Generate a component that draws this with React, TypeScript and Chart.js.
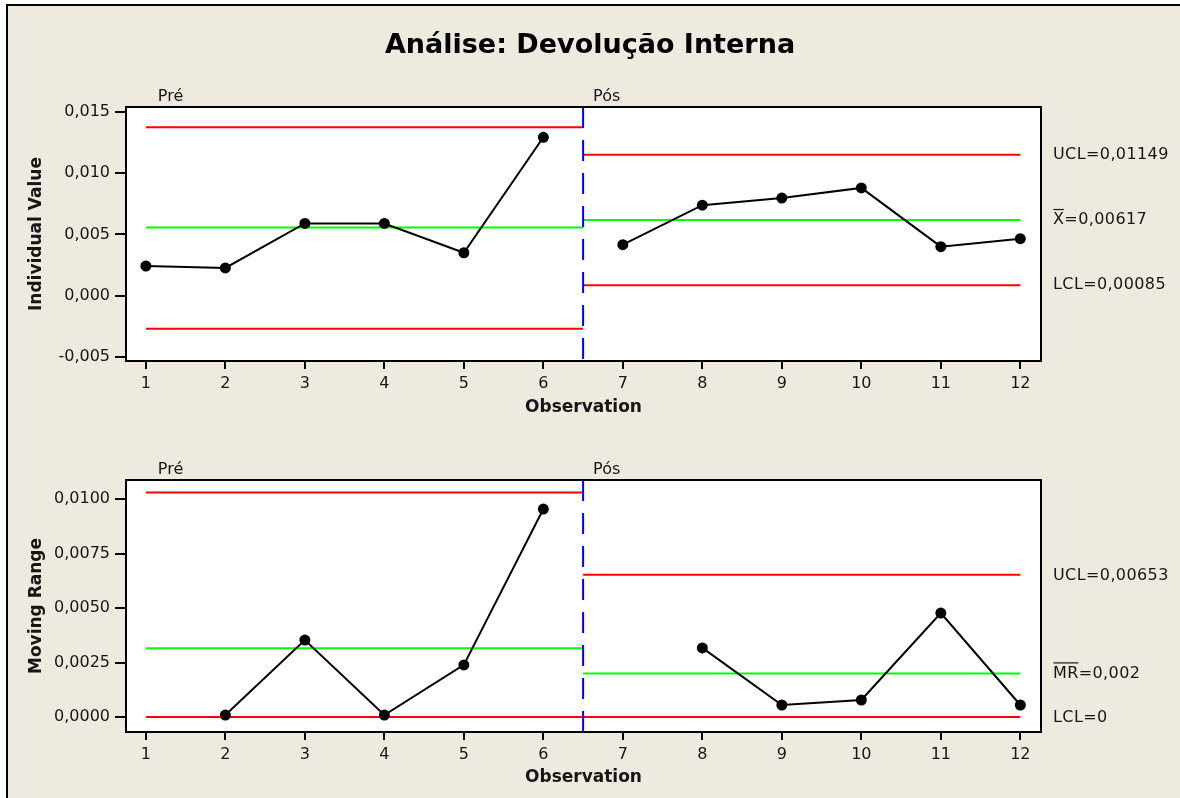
import React, { useEffect, useRef } from "react";
import { Chart, registerables } from "chart.js";

Chart.register(...registerables);

const FONT = "'DejaVu Sans', Verdana, sans-serif";
const TEXT = "#161616";

// ---- data ----
const chartTitle = "Análise: Devolução Interna";
const observations = [1, 2, 3, 4, 5, 6, 7, 8, 9, 10, 11, 12];
const stageNames = ["Pré", "Pós"];
const stageStart = [1, 7];
const stageEnd = [6, 12];
const stageSplit = 6.5;

const individualPre = [0.00242, 0.00226, 0.00589, 0.00589, 0.0035, 0.01292];
const individualPos = [0.00416, 0.00738, 0.00796, 0.00879, 0.004, 0.00465];
const movingRangePre = [null, 0.00009, 0.00353, 0.00009, 0.00239, 0.00954];
const movingRangePos = [null, 0.00317, 0.00055, 0.00078, 0.00477, 0.00055];

const iUCL = [0.01374, 0.01149];
const iCL = [0.00556, 0.00617];
const iLCL = [-0.0027, 0.00085];
const mrUCL = [0.0103, 0.00653];
const mrCL = [0.00315, 0.002];
const mrLCL = [0, 0];

const iTicks = [-0.005, 0, 0.005, 0.01, 0.015];
const mrTicks = [0, 0.0025, 0.005, 0.0075, 0.01];
const iRange = [-0.00533, 0.01539];
const mrRange = [-0.000688, 0.010872];
const xRange = [0.75, 12.26];

const iLimitLabels = ["UCL=0,01149", "X=0,00617", "LCL=0,00085"];
const mrLimitLabels = ["UCL=0,00653", "MR=0,002", "LCL=0"];
const iOverline = [0, 1, 0];
const mrOverline = [0, 2, 0];

// ---- helpers ----
function pts(vals: (number | null)[], start: number) {
  const out: { x: number; y: number }[] = [];
  vals.forEach((v, i) => {
    if (v !== null) out.push({ x: start + i, y: v });
  });
  return out;
}

function buildDatasets(
  pre: (number | null)[],
  pos: (number | null)[],
  ucl: number[],
  cl: number[],
  lcl: number[],
  range: number[]
) {
  const dataStyle = {
    borderColor: "#000",
    backgroundColor: "#000",
    pointBackgroundColor: "#000",
    borderWidth: 2,
    pointRadius: 5.5,
    pointBorderWidth: 0,
    pointHoverRadius: 5.5,
    tension: 0,
  };
  const lim = (color: string) => ({
    borderColor: color,
    borderWidth: 2,
    pointRadius: 0,
    pointHoverRadius: 0,
    tension: 0,
  });
  const seg = (v: number, a: number, b: number) => [
    { x: a, y: v },
    { x: b, y: v },
  ];
  const ds: any[] = [
    { data: pts(pre, stageStart[0]), ...dataStyle },
    { data: pts(pos, stageStart[1]), ...dataStyle },
    {
      data: [
        { x: stageSplit, y: range[1] },
        { x: stageSplit, y: range[0] },
      ],
      borderColor: "#0000FF",
      borderWidth: 2,
      borderDash: [21, 12],
      pointRadius: 0,
      pointHoverRadius: 0,
    },
  ];
  [0, 1].forEach((s) => {
    const a = s === 0 ? stageStart[0] : stageSplit;
    const b = s === 0 ? stageSplit : stageEnd[1];
    ds.push({ data: seg(ucl[s], a, b), ...lim("#FF0000") });
    ds.push({ data: seg(cl[s], a, b), ...lim("#00FF00") });
    ds.push({ data: seg(lcl[s], a, b), ...lim("#FF0000") });
  });
  return ds;
}

const decorPlugin = {
  id: "decor",
  beforeDraw(chart: any) {
    const { ctx, chartArea: a } = chart;
    ctx.save();
    ctx.fillStyle = "#fff";
    ctx.fillRect(a.left, a.top, a.right - a.left, a.bottom - a.top);
    ctx.restore();
  },
  afterDraw(chart: any, _args: any, opts: any) {
    const { ctx, chartArea: a } = chart;
    const xs = chart.scales.x;
    const ys = chart.scales.y;
    ctx.save();
    // frame
    ctx.strokeStyle = "#000";
    ctx.lineWidth = 2;
    ctx.strokeRect(a.left, a.top, a.right - a.left, a.bottom - a.top);
    // title
    if (opts.title) {
      ctx.fillStyle = "#000";
      ctx.font = `bold 27px ${FONT}`;
      ctx.textAlign = "center";
      ctx.textBaseline = "alphabetic";
      ctx.fillText(opts.title, 590, opts.titleY);
    }
    // stage labels
    ctx.fillStyle = TEXT;
    ctx.font = `16px ${FONT}`;
    ctx.textAlign = "left";
    ctx.textBaseline = "middle";
    ctx.fillText(stageNames[0], xs.getPixelForValue(stageStart[0]) + 12, a.top - 10);
    ctx.fillText(stageNames[1], xs.getPixelForValue(stageSplit) + 10, a.top - 10);
    // limit labels (last stage)
    const vals = opts.values as number[];
    const labels = opts.labels as string[];
    const over = opts.overline as number[];
    try {
      (ctx as any).letterSpacing = "0.4px";
    } catch (e) {}
    labels.forEach((t, i) => {
      const y = ys.getPixelForValue(vals[i]) + (opts.labelShift ? opts.labelShift[i] : 0);
      const x = a.right + 12;
      ctx.fillText(t, x, y);
      if (over[i] > 0) {
        const w = ctx.measureText(t.slice(0, over[i])).width;
        ctx.beginPath();
        ctx.lineWidth = 1.2;
        ctx.strokeStyle = TEXT;
        ctx.moveTo(x + 0.5, y - 10.5);
        ctx.lineTo(x + w - 0.5, y - 10.5);
        ctx.stroke();
      }
    });
    ctx.restore();
  },
};

function makeConfig(opts: {
  datasets: any[];
  yTicks: number[];
  yRange: number[];
  decimals: number;
  yTitle: string;
  padTop: number;
  xHeight: number;
  xTitlePadBottom: number;
  decor: any;
}) {
  return {
    type: "line",
    data: { datasets: opts.datasets },
    plugins: [decorPlugin],
    options: {
      animation: false,
      responsive: false,
      events: [],
      layout: { padding: { top: opts.padTop, right: 139, bottom: 0, left: 0 } },
      plugins: {
        legend: { display: false },
        tooltip: { enabled: false },
        title: { display: false },
        decor: opts.decor,
      },
      scales: {
        x: {
          type: "linear",
          min: xRange[0],
          max: xRange[1],
          afterBuildTicks: (s: any) => {
            s.ticks = observations.map((v) => ({ value: v }));
          },
          afterFit: (s: any) => {
            s.height = opts.xHeight;
          },
          grid: {
            drawOnChartArea: false,
            drawTicks: true,
            tickLength: 8,
            color: "#000",
            lineWidth: 2,
          },
          border: { display: false },
          ticks: {
            autoSkip: false,
            maxRotation: 0,
            padding: 5,
            color: TEXT,
            font: { family: FONT, size: 16 },
            callback: (v: any) => String(v),
          },
          title: {
            display: true,
            text: "Observation",
            color: TEXT,
            font: { family: FONT, size: 17, weight: "bold" },
            padding: { top: 0, bottom: opts.xTitlePadBottom },
          },
        },
        y: {
          type: "linear",
          min: opts.yRange[0],
          max: opts.yRange[1],
          afterBuildTicks: (s: any) => {
            s.ticks = opts.yTicks.map((v) => ({ value: v }));
          },
          afterFit: (s: any) => {
            s.width = 126;
          },
          grid: {
            drawOnChartArea: false,
            drawTicks: true,
            tickLength: 11,
            color: "#000",
            lineWidth: 2,
          },
          border: { display: false },
          ticks: {
            padding: 5,
            color: TEXT,
            font: { family: FONT, size: 16 },
            callback: (v: any) => Number(v).toFixed(opts.decimals).replace(".", ","),
          },
          title: {
            display: true,
            text: opts.yTitle,
            color: TEXT,
            font: { family: FONT, size: 17, weight: "bold" },
            padding: { top: 26, bottom: 0 },
          },
        },
      },
    },
  } as any;
}

export default function App() {
  const topRef = useRef<HTMLCanvasElement>(null);
  const botRef = useRef<HTMLCanvasElement>(null);

  useEffect(() => {
    const c1 = new Chart(
      topRef.current as HTMLCanvasElement,
      makeConfig({
        datasets: buildDatasets(individualPre, individualPos, iUCL, iCL, iLCL, iRange),
        yTicks: iTicks,
        yRange: iRange,
        decimals: 3,
        yTitle: "Individual Value",
        padTop: 107,
        xHeight: 59,
        xTitlePadBottom: 2,
        decor: {
          title: chartTitle,
          titleY: 53,
          labels: iLimitLabels,
          values: [iUCL[1], iCL[1], iLCL[1]],
          overline: iOverline,
        },
      })
    );
    const c2 = new Chart(
      botRef.current as HTMLCanvasElement,
      makeConfig({
        datasets: buildDatasets(movingRangePre, movingRangePos, mrUCL, mrCL, mrLCL, mrRange),
        yTicks: mrTicks,
        yRange: mrRange,
        decimals: 4,
        yTitle: "Moving Range",
        padTop: 60,
        xHeight: 66,
        xTitlePadBottom: 10,
        decor: {
          labels: mrLimitLabels,
          values: [mrUCL[1], mrCL[1], mrLCL[1]],
          overline: mrOverline,
          labelShift: [1, 0, 1],
        },
      })
    );
    return () => {
      c1.destroy();
      c2.destroy();
    };
  }, []);

  return (
    <div
      style={{
        position: "fixed",
        left: 0,
        top: 0,
        width: 1180,
        height: 798,
        background: "#fff",
        overflow: "hidden",
      }}
    >
      <div
        style={{
          position: "absolute",
          left: 6,
          top: 4,
          width: 1260,
          height: 860,
          border: "2px solid #000",
          background: "#EEEAE0",
        }}
      />
      <canvas
        ref={topRef}
        width={1180}
        height={420}
        style={{ position: "absolute", left: 0, top: 0, width: 1180, height: 420 }}
      />
      <canvas
        ref={botRef}
        width={1180}
        height={378}
        style={{ position: "absolute", left: 0, top: 420, width: 1180, height: 378 }}
      />
    </div>
  );
}
